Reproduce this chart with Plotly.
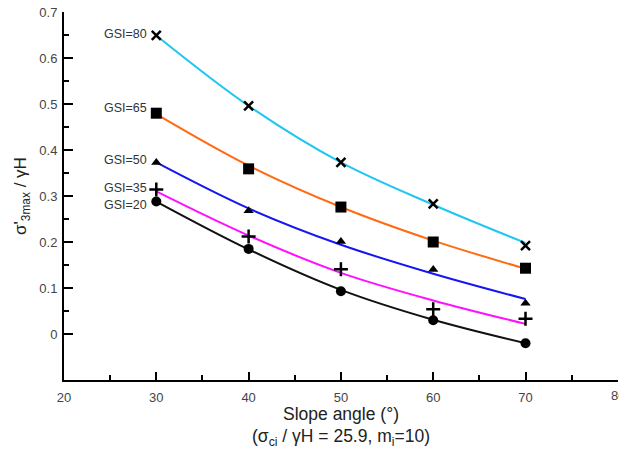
import plotly.graph_objects as go

# Slope angles (degrees)
angles = [30, 40, 50, 60, 70]

# Computed sigma'3max / gammaH for each GSI value
gsi_80 = [0.649, 0.496, 0.373, 0.283, 0.192]
gsi_65 = [0.480, 0.359, 0.276, 0.200, 0.143]
gsi_50 = [0.373, 0.268, 0.201, 0.140, 0.067]
gsi_35 = [0.314, 0.212, 0.141, 0.054, 0.033]
gsi_20 = [0.288, 0.185, 0.093, 0.030, -0.020]

# Fitted trend curves evaluated at the same slope angles
fit_80 = [0.649, 0.496, 0.373, 0.281, 0.198]
fit_65 = [0.478, 0.366, 0.276, 0.203, 0.142]
fit_50 = [0.373, 0.273, 0.194, 0.131, 0.076]
fit_35 = [0.310, 0.214, 0.133, 0.073, 0.022]
fit_20 = [0.288, 0.184, 0.096, 0.031, -0.020]

labels = ["GSI=80", "GSI=65", "GSI=50", "GSI=35", "GSI=20"]
label_y = [0.652, 0.492, 0.378, 0.318, 0.281]

x_ticks = [20, 30, 40, 50, 60, 70, 80]

points = [gsi_80, gsi_65, gsi_50, gsi_35, gsi_20]
fits = [fit_80, fit_65, fit_50, fit_35, fit_20]
colors = ["#1ec6f0", "#ff6a12", "#1515f5", "#ff10ff", "#111111"]
symbols = ["x-thin", "square", "triangle-up", "cross-thin", "circle"]
sizes = [9, 11, 9, 10, 10]

fig = go.Figure()

for fit, col in zip(fits, colors):
    fig.add_trace(go.Scatter(
        x=angles, y=fit, mode="lines",
        line=dict(color=col, width=2, shape="spline", smoothing=1.0),
        showlegend=False, hoverinfo="skip",
    ))

for pts, sym, sz in zip(points, symbols, sizes):
    thin = sym.endswith("-thin")
    fig.add_trace(go.Scatter(
        x=angles, y=pts, mode="markers",
        marker=dict(symbol=sym, size=sz, color="black",
                    line=dict(color="black", width=2.5 if thin else 0)),
        showlegend=False,
    ))

for txt, yv in zip(labels, label_y):
    fig.add_annotation(
        x=angles[0], y=yv, xref="x", yref="y", text=txt,
        showarrow=False, xanchor="right", yanchor="middle", xshift=-7,
        font=dict(size=12.5, color="#333333"),
    )

# last x tick label sits on the right edge of the figure
fig.add_annotation(
    x=x_ticks[-1], y=0, xref="x", yref="paper", text=str(x_ticks[-1]),
    showarrow=False, xanchor="center", yanchor="top", yshift=-6,
    font=dict(size=13, color="#444444"),
)

fig.update_layout(
    width=619, height=449,
    margin=dict(l=64, r=1, t=12, b=69),
    paper_bgcolor="white", plot_bgcolor="white",
    font=dict(family="Liberation Sans, Arial, sans-serif", color="#444444"),
    xaxis=dict(
        range=[20, 80.02], showgrid=False, zeroline=False,
        showline=True, linecolor="black", linewidth=2,
        ticks="inside", ticklen=8, tickwidth=2, tickcolor="black",
        tickvals=x_ticks[:-1],
        tickfont=dict(size=13, color="#444444"),
        ticklabelstandoff=4,
        minor=dict(tickvals=[25, 35, 45, 55, 65, 75, 80], ticks="inside",
                   ticklen=5, tickwidth=2, tickcolor="black"),
        title=dict(text="Slope angle (°)<br>(σ<sub>ci</sub> / γH = 25.9, m<sub>i</sub>=10)",
                   font=dict(size=17.5, color="#222222"), standoff=4),
    ),
    yaxis=dict(
        range=[-0.1, 0.7], showgrid=False, zeroline=False,
        showline=True, linecolor="black", linewidth=2,
        ticks="inside", ticklen=9, tickwidth=2, tickcolor="black",
        tickvals=[0, 0.1, 0.2, 0.3, 0.4, 0.5, 0.6, 0.7],
        ticktext=["0", "0.1", "0.2", "0.3", "0.4", "0.5", "0.6", "0.7"],
        tickfont=dict(size=13, color="#444444"),
        ticklabelstandoff=2,
        minor=dict(tickvals=[0.05, 0.15, 0.25, 0.35, 0.45, 0.55, 0.65],
                   ticks="inside", ticklen=5, tickwidth=2, tickcolor="black"),
        title=dict(text="σ'<sub>3max</sub> / γH",
                   font=dict(size=17, color="#222222"), standoff=8),
    ),
)

fig.write_html("out.html")
